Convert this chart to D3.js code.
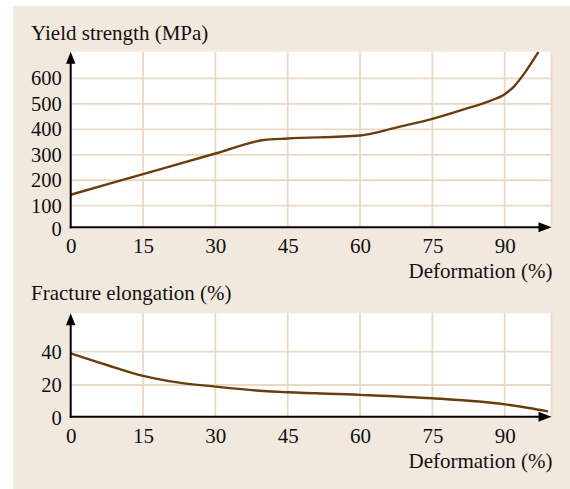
<!DOCTYPE html>
<html>
<head>
<meta charset="utf-8">
<script src="https://cdn.jsdelivr.net/npm/d3@7"></script>
<style>
  html, body { margin: 0; padding: 0; background: #ffffff; }
  svg { display: block; }
  text { font-family: "Liberation Serif", "Times New Roman", serif; fill: #111; }
</style>
</head>
<body>
<svg id="chart" width="570" height="489"></svg>
<script>
// Cold deformation (%) against yield strength and fracture elongation
const deformTicks = [0, 15, 30, 45, 60, 75, 90];
const strengthTicks = [0, 100, 200, 300, 400, 500, 600];
const elongTicks = [0, 20, 40];

const strengthDeform = [0, 15, 30, 40, 45, 60, 67.5, 75, 82.5, 87, 90, 92, 94, 97];
const strengthValues = [143, 224, 305, 358, 364, 376, 407, 441, 484, 512, 538, 570, 618, 704];

const elongDeform = [0, 7.5, 15, 22.5, 30, 40, 45, 60, 75, 90, 95, 99];
const elongValues = [39, 32, 25.5, 21.4, 19, 16.2, 15.4, 13.8, 11.6, 7.8, 5.5, 3.3];

const svg = d3.select("#chart");
const BG = "#f2e9de", GRID = "#e9d9c5", CURVE = "#6a3d0e", FS = 21, TICK_FS = 20.5;

svg.append("rect").attr("x", 13).attr("y", 6).attr("width", 557).attr("height", 483).attr("fill", BG);

const left = 70.7, right = 551.5, xMax = 99.7;
const x = d3.scaleLinear().domain([0, xMax]).range([left, right]);

function panel(opts) {
  const { y, top, base, ticks, data, title, titleY, xLabelY, id } = opts;
  const g = svg.append("g");

  g.append("rect").attr("x", left).attr("y", top).attr("width", right - left).attr("height", base - top).attr("fill", "#fff");

  // grid
  g.append("g").selectAll("line").data(ticks.filter(t => t > 0)).join("line")
    .attr("x1", left).attr("x2", right).attr("y1", d => y(d)).attr("y2", d => y(d))
    .attr("stroke", GRID).attr("stroke-width", 1.8);
  g.append("g").selectAll("line").data(deformTicks.filter(t => t > 0).concat([xMax])).join("line")
    .attr("x1", d => x(d)).attr("x2", d => x(d)).attr("y1", top).attr("y2", base)
    .attr("stroke", GRID).attr("stroke-width", 1.8);

  // curve
  g.append("clipPath").attr("id", id).append("rect")
    .attr("x", left).attr("y", top).attr("width", right - left).attr("height", base - top);
  const line = d3.line().x(d => x(d[0])).y(d => y(d[1])).curve(d3.curveMonotoneX);
  g.append("path").datum(data).attr("d", line).attr("clip-path", `url(#${id})`)
    .attr("fill", "none").attr("stroke", CURVE).attr("stroke-width", 2.4);

  // axes
  const yAxis = d3.axisLeft(y).tickValues(ticks).tickSize(0).tickPadding(9);
  const ya = g.append("g").attr("transform", `translate(${left},0)`).call(yAxis);
  ya.select(".domain").remove();
  ya.selectAll("text").attr("font-size", TICK_FS).attr("font-family", "Liberation Serif").attr("fill", "#111")
    .attr("dy", d => d === 0 ? "0.38em" : "0.32em");

  const xAxis = d3.axisBottom(x).tickValues(deformTicks).tickSize(0).tickPadding(0);
  const xa = g.append("g").attr("transform", `translate(0,${base})`).call(xAxis);
  xa.select(".domain").remove();
  xa.selectAll("text").attr("font-size", FS).attr("font-family", "Liberation Serif").attr("fill", "#111").attr("dy", 0).attr("y", 26);

  g.append("line").attr("x1", left).attr("x2", left).attr("y1", base + 1).attr("y2", top + 10)
    .attr("stroke", "#000").attr("stroke-width", 2);
  g.append("line").attr("x1", left - 1).attr("x2", right - 10).attr("y1", base).attr("y2", base)
    .attr("stroke", "#000").attr("stroke-width", 2);
  g.append("path").attr("d", `M${left},${top} L${left - 4.7},${top + 12} L${left + 4.7},${top + 12} Z`).attr("fill", "#000");
  g.append("path").attr("d", `M${right},${base} L${right - 13},${base - 5} L${right - 13},${base + 5} Z`).attr("fill", "#000");

  g.append("text").attr("x", 31).attr("y", titleY).attr("font-size", FS).text(title);
  g.append("text").attr("x", 552.5).attr("y", xLabelY).attr("font-size", FS).attr("text-anchor", "end").text("Deformation (%)");
}

const yTop = d3.scaleLinear().domain([0, 100, 705]).range([227.3, 205.7, 51.7]);
panel({
  y: yTop, top: 51.7, base: 227.3, ticks: strengthTicks,
  data: strengthDeform.map((d, i) => [d, strengthValues[i]]),
  title: "Yield strength (MPa)", titleY: 40, xLabelY: 277.7, id: "clipTop"
});

const yBottom = d3.scaleLinear().domain([0, 20, 63]).range([416.7, 385, 313.3]);
panel({
  y: yBottom, top: 313.3, base: 416.7, ticks: elongTicks,
  data: elongDeform.map((d, i) => [d, elongValues[i]]),
  title: "Fracture elongation (%)", titleY: 300, xLabelY: 468.3, id: "clipBottom"
});
</script>
</body>
</html>
